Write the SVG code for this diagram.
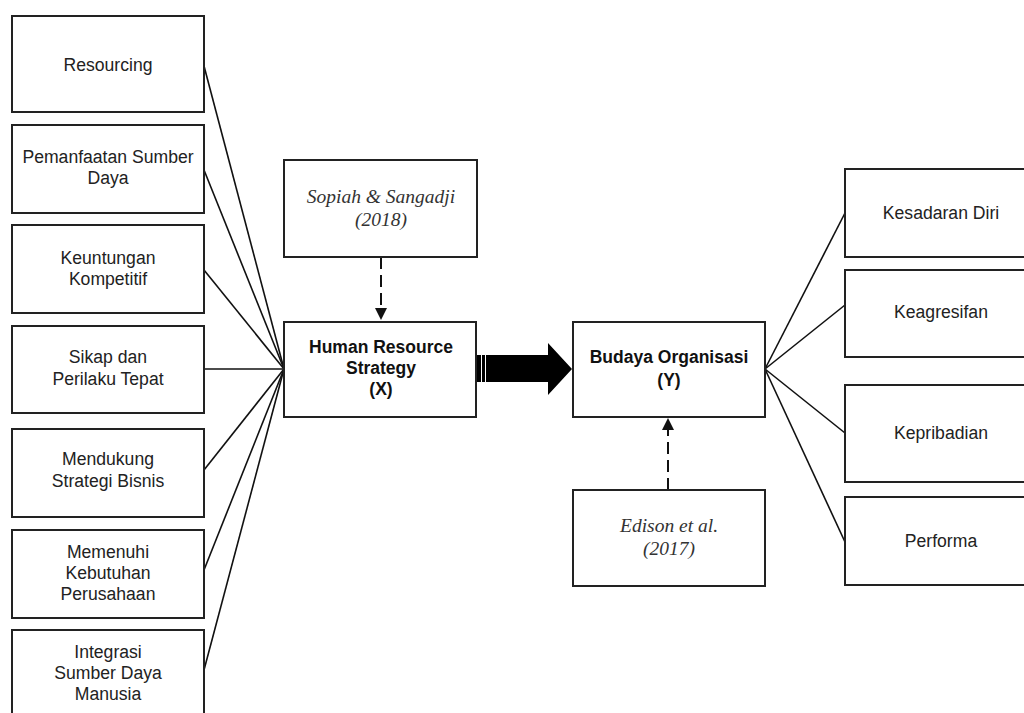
<svg xmlns="http://www.w3.org/2000/svg" width="1024" height="713" viewBox="0 0 1024 713">
<defs>
<style>
.box{fill:#fff;stroke:#222;stroke-width:2}
.t{font-family:"Liberation Sans",Arial,sans-serif;font-size:17.6px;fill:#222;text-anchor:middle}
.b{font-family:"Liberation Sans",Arial,sans-serif;font-size:17.5px;font-weight:bold;fill:#111;text-anchor:middle}
.i{font-family:"Liberation Serif","Times New Roman",serif;font-size:19.5px;font-style:italic;fill:#333;text-anchor:middle}
.ln{stroke:#111;stroke-width:1.6;fill:none}
.dash{stroke:#111;stroke-width:2;fill:none;stroke-dasharray:12 6}
</style>
</defs>
<rect width="1024" height="713" fill="#fff"/>
<g id="connectors">
<line class="ln" x1="204" y1="66" x2="284" y2="369"/>
<line class="ln" x1="204" y1="170" x2="284" y2="369"/>
<line class="ln" x1="204" y1="270" x2="284" y2="369"/>
<line class="ln" x1="204" y1="369" x2="284" y2="369"/>
<line class="ln" x1="204" y1="470" x2="284" y2="369"/>
<line class="ln" x1="204" y1="570" x2="284" y2="369"/>
<line class="ln" x1="204" y1="670" x2="284" y2="369"/>
<line class="ln" x1="765" y1="369" x2="845" y2="213"/>
<line class="ln" x1="765" y1="369" x2="845" y2="305"/>
<line class="ln" x1="765" y1="369" x2="845" y2="433"/>
<line class="ln" x1="765" y1="369" x2="845" y2="542"/>
<line class="dash" x1="381" y1="257" x2="381" y2="309"/>
<polygon points="375,308 387,308 381,320" fill="#111"/>
<line class="dash" x1="668" y1="490" x2="668" y2="430"/>
<polygon points="662,430 674,430 668,418" fill="#111"/>
<g id="big-arrow" fill="#000">
<rect x="476" y="355" width="5" height="27"/>
<rect x="482" y="355" width="3" height="27"/>
<polygon points="486,355 548,355 548,343 572,369 548,395 548,382 486,382"/>
</g>
</g>
<g id="n-resourcing"><rect class="box" x="12" y="16" width="192" height="96"/><text class="t" x="108" y="71">Resourcing</text></g>
<g id="n-pemanfaatan"><rect class="box" x="12" y="125" width="192" height="88"/><text class="t" x="108" y="163">Pemanfaatan Sumber</text><text class="t" x="108" y="184">Daya</text></g>
<g id="n-keuntungan"><rect class="box" x="12" y="225" width="192" height="88"/><text class="t" x="108" y="264">Keuntungan</text><text class="t" x="108" y="285">Kompetitif</text></g>
<g id="n-sikap"><rect class="box" x="12" y="326" width="192" height="87"/><text class="t" x="108" y="363">Sikap dan</text><text class="t" x="108" y="385">Perilaku Tepat</text></g>
<g id="n-mendukung"><rect class="box" x="12" y="429" width="192" height="88"/><text class="t" x="108" y="465">Mendukung</text><text class="t" x="108" y="487">Strategi Bisnis</text></g>
<g id="n-memenuhi"><rect class="box" x="12" y="530" width="192" height="88"/><text class="t" x="108" y="558">Memenuhi</text><text class="t" x="108" y="579">Kebutuhan</text><text class="t" x="108" y="600">Perusahaan</text></g>
<g id="n-integrasi"><rect class="box" x="12" y="630" width="192" height="95"/><text class="t" x="108" y="658">Integrasi</text><text class="t" x="108" y="679">Sumber Daya</text><text class="t" x="108" y="700">Manusia</text></g>
<g id="n-sopiah"><rect class="box" x="284" y="160" width="193" height="97"/><text class="i" x="381" y="203">Sopiah &amp; Sangadji</text><text class="i" x="381" y="226">(2018)</text></g>
<g id="n-hrs"><rect class="box" x="284" y="322" width="192" height="95"/><text class="b" x="381" y="353">Human Resource</text><text class="b" x="381" y="374">Strategy</text><text class="b" x="381" y="395">(X)</text></g>
<g id="n-budaya"><rect class="box" x="573" y="322" width="192" height="95"/><text class="b" x="669" y="363">Budaya Organisasi</text><text class="b" x="669" y="386">(Y)</text></g>
<g id="n-edison"><rect class="box" x="573" y="490" width="192" height="96"/><text class="i" x="669" y="532">Edison et al.</text><text class="i" x="669" y="555">(2017)</text></g>
<g id="n-kesadaran"><rect class="box" x="845" y="169" width="195" height="88"/><text class="t" x="941" y="219">Kesadaran Diri</text></g>
<g id="n-keagresifan"><rect class="box" x="845" y="270" width="195" height="87"/><text class="t" x="941" y="318">Keagresifan</text></g>
<g id="n-kepribadian"><rect class="box" x="845" y="385" width="195" height="97"/><text class="t" x="941" y="439">Kepribadian</text></g>
<g id="n-performa"><rect class="box" x="845" y="497" width="195" height="88"/><text class="t" x="941" y="547">Performa</text></g>
</svg>
